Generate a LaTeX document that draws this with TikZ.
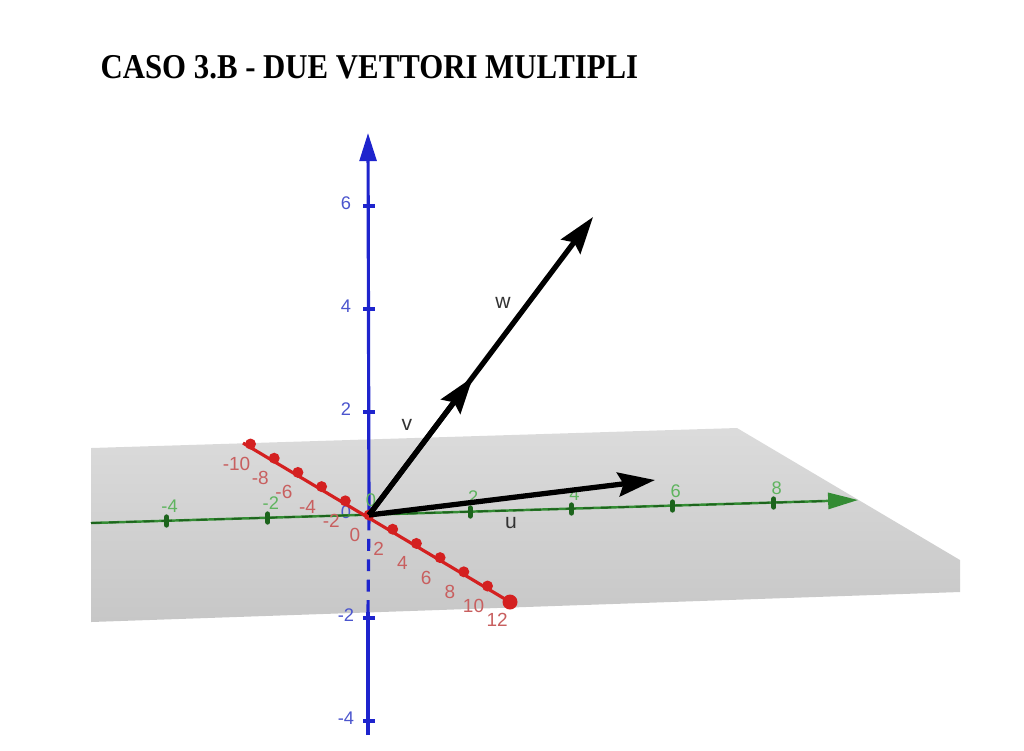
\documentclass[tikz,border=0pt]{standalone}
\usepackage{fontspec}
\setmainfont{Liberation Serif}
\setsansfont{Liberation Sans}
\usetikzlibrary{calc,arrows.meta}
\definecolor{zblue}{RGB}{30,36,205}
\definecolor{zlabc}{RGB}{75,85,205}
\definecolor{ygreen}{RGB}{52,140,52}
\definecolor{ydark}{RGB}{28,100,28}
\definecolor{ylabc}{RGB}{95,180,95}
\definecolor{xred}{RGB}{212,32,32}
\definecolor{xlabc}{RGB}{200,95,95}
\tikzset{
    title/.style={
        font=\fontsize{9.9}{11}\selectfont\bfseries,
        inner sep=0pt,
        xscale=0.885
    },
    zaxis/.style={
        draw=zblue,
        line width=0.9pt
    },
    yaxis/.style={
        draw=ygreen,
        line width=0.7pt
    },
    xaxis/.style={
        draw=xred,
        line width=0.9pt
    },
    zlab/.style={
        font=\sffamily\fontsize{5.2}{6}\selectfont,
        text=zlabc,
        inner sep=0pt
    },
    ylab/.style={
        font=\sffamily\fontsize{5.2}{6}\selectfont,
        text=ylabc,
        inner sep=0pt
    },
    xlab/.style={
        font=\sffamily\fontsize{5.4}{6}\selectfont,
        text=xlabc,
        inner sep=0pt
    },
    vec/.style={
        draw=black,
        line width=1.5pt,
        -{Stealth[length=10.5pt,width=6.8pt,inset=1.5pt]}
    },
    veclab/.style={
        font=\sffamily\fontsize{6}{7}\selectfont,
        text=black!80,
        inner sep=0pt
    }
}

\begin{document}
\begin{tikzpicture}[x=0.01cm,y=-0.01cm]
\useasboundingbox (0,0) rectangle (1024,750);
\node[title,anchor=base west] (title) at (100,78) {CASO 3.B - DUE VETTORI MULTIPLI};
% plane
\shade[top color=gray!28,middle color=gray!52,bottom color=gray!44]
  (91,448) -- (737,428) -- (960,560) -- (960,592) -- (91,622) -- cycle;
\coordinate (O) at (369,515);
\coordinate (ztop) at (368,133);
\coordinate (zbot) at (368,735);
\coordinate (zcut) at (368,612);
\coordinate (yleft) at (91,523);
\coordinate (ytip) at (858,500);
\coordinate (xneg) at (243,443);
\coordinate (xend) at (510,602);
\coordinate (U) at (655,480);
\coordinate (V) at (473,377);
\coordinate (W) at (593,217);
% z axis
\draw[zaxis] (zbot) -- (zcut);
\draw[zaxis,dash pattern=on 3.4pt off 2.4pt] (zcut) -- (O);
\draw[zaxis,-{Triangle[length=8pt,width=4.8pt]}] (O) -- (ztop);
\foreach \t in {6,4,2,-2,-4} {
  \draw[zaxis] ($(O)+(-6,-51.5*\t)$) -- ++(12,0);
  \node[zlab] (z\t) at ($(O)+(-23,-51.5*\t-3)$) {\t};
}
\node[zlab] (z0) at (346,512) {0};
% y axis
\draw[yaxis,-{Triangle[length=8.5pt,width=4.6pt]}] (yleft) -- (ytip);
\draw[ydark,line width=0.5pt,dash pattern=on 3pt off 2pt] (yleft) -- ($(ytip)+(-30,1)$);
\foreach \t in {-4,-2,2,4,6,8} {
  \draw[ydark,line width=1.5pt,line cap=round] ($(O)+\t*(50.6,-1.5)+(0,-4)$) -- ++(0,8);
  \node[ylab] (y\t) at ($(O)+\t*(50.6,-1.5)+(3,-15)$) {\t};
}
\node[ylab] (y0) at (371,500) {0};
% x axis
\draw[xaxis] (xneg) -- (xend);
\foreach \t in {-10,-8,...,10}
  \fill[xred] ($(O)+\t*(11.85,7.1)$) circle[radius=5.5];
\fill[xred] (xend) circle[radius=7.5];
\foreach \t in {-10,-8,...,12}
  \node[xlab] (x\t) at ($(O)+\t*(11.85,7.1)+(-14,20)$) {\t};
% vectors
\draw[vec] (O) -- (W);
\draw[vec] (O) -- (V);
\draw[vec] (O) -- (U);
\node[veclab] (lu) at (511,523) {u};
\node[veclab] (lv) at (407,425) {v};
\node[veclab] (lw) at (503,303) {w};
\end{tikzpicture}
\end{document}
